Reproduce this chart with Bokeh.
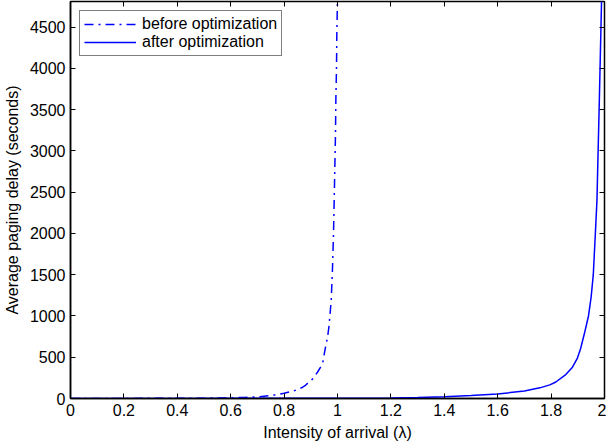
from bokeh.plotting import figure
from bokeh.models import Range1d, FixedTicker, LinearAxis, Legend, LegendItem
from bokeh.embed import file_html
from bokeh.resources import INLINE

# ---- data ----
before_x = [0.0, 0.1, 0.2, 0.3, 0.4, 0.5, 0.55, 0.6, 0.65, 0.7, 0.75, 0.8, 0.84, 0.865,
            0.88, 0.907, 0.925, 0.944, 0.9527, 0.9627, 0.9677, 0.9764, 0.9814, 0.985, 0.9876,
            0.990, 0.9925, 0.9938, 0.9963, 0.9975, 1.0]
before_y = [1, 1, 1, 2, 2, 4, 6, 8, 13, 20, 35, 64, 97, 130,
            160, 238, 318, 420, 581, 742, 863, 1186, 1590, 1994, 2397,
            2797, 3206, 3608, 4011, 4415, 4850]

after_x = [0.0, 0.4, 0.8, 1.0, 1.2, 1.3, 1.4, 1.5, 1.6, 1.7, 1.758, 1.7953, 1.8177,
           1.855, 1.88, 1.8986, 1.911, 1.925, 1.94, 1.95, 1.958, 1.9657, 1.9717, 1.9806, 1.9892]
after_y = [0.5, 1, 2, 3, 6, 11, 22, 35, 55, 90, 129, 165, 200,
           290, 380, 490, 610, 790, 1000, 1230, 1500, 1994, 2397, 3608, 4850]

x_ticks = [0, 0.2, 0.4, 0.6, 0.8, 1.0, 1.2, 1.4, 1.6, 1.8, 2.0]
x_tick_labels = ["0", "0.2", "0.4", "0.6", "0.8", "1", "1.2", "1.4", "1.6", "1.8", "2"]
y_ticks = [0, 500, 1000, 1500, 2000, 2500, 3000, 3500, 4000, 4500]

x_label = "Intensity of arrival (λ)"
y_label = "Average paging delay (seconds)"
series_names = ["before optimization", "after optimization"]

FONT = "Liberation Sans"
FS = "16px"

p = figure(width=606, height=446, x_range=Range1d(0, 2), y_range=Range1d(0, 4810),
           output_backend="svg", toolbar_location=None,
           min_border_left=68, min_border_right=2, min_border_top=1, min_border_bottom=48)
p.grid.visible = False
p.outline_line_color = "black"
p.outline_line_width = 1.5
p.background_fill_color = "white"
p.border_fill_color = "white"

for ax, ticks in ((p.xaxis[0], x_ticks), (p.yaxis[0], y_ticks)):
    ax.ticker = FixedTicker(ticks=ticks)
    ax.major_tick_in = 5
    ax.major_tick_out = 0
    ax.minor_tick_line_color = None
    ax.axis_line_color = "black"
    ax.axis_line_width = 1.5
    ax.major_tick_line_color = "black"
    ax.major_label_text_font = FONT
    ax.major_label_text_font_size = FS
    ax.major_label_text_color = "black"
    ax.axis_label_text_font = FONT
    ax.axis_label_text_font_size = FS
    ax.axis_label_text_font_style = "normal"
    ax.axis_label_text_color = "black"

p.xaxis[0].major_label_overrides = {t: l for t, l in zip(x_ticks, x_tick_labels)}
p.xaxis[0].axis_label = x_label
p.xaxis[0].major_label_standoff = 5
p.xaxis[0].axis_label_standoff = 5
p.yaxis[0].axis_label = y_label
p.yaxis[0].major_label_standoff = 5
p.yaxis[0].axis_label_standoff = 6

for side, ticks in (("above", x_ticks), ("right", y_ticks)):
    ax = LinearAxis(ticker=FixedTicker(ticks=ticks), major_tick_in=5, major_tick_out=0,
                    minor_tick_line_color=None, axis_line_color=None,
                    major_label_overrides={t: "" for t in ticks},
                    major_label_text_font_size="1px", major_label_standoff=0,
                    major_tick_line_color="black")
    p.add_layout(ax, side)

r1 = p.line(before_x, before_y, line_color="#0000ff", line_width=1.5, line_dash="9 5 2 5")
r2 = p.line(after_x, after_y, line_color="#0000ff", line_width=1.5)

legend = Legend(items=[LegendItem(label=series_names[0], renderers=[r1]),
                       LegendItem(label=series_names[1], renderers=[r2])],
                location="top_left", margin=9, padding=4, spacing=0,
                glyph_width=52, glyph_height=16, label_height=16, label_standoff=6,
                label_text_font=FONT, label_text_font_size=FS, label_text_color="black",
                border_line_color="black", border_line_width=1.5,
                background_fill_color="white", background_fill_alpha=1)
p.add_layout(legend, "center")

open("out.html", "w").write(file_html(p, INLINE))
